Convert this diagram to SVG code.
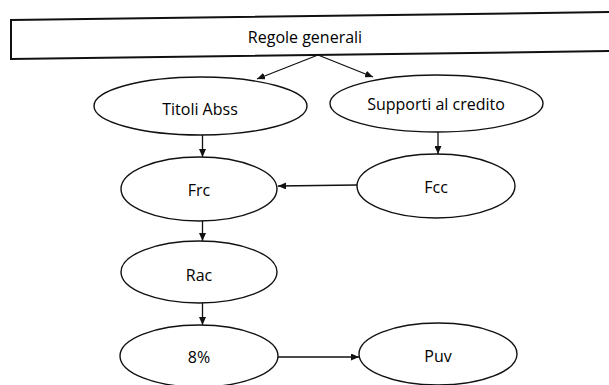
<svg xmlns="http://www.w3.org/2000/svg" width="609" height="385" viewBox="0 0 609 385">
<defs>
<style>
.shape{fill:#fff;stroke:#111;stroke-width:1.4}
.box{fill:#fff;stroke:#111;stroke-width:2}
.lbl{font-family:"Open Sans","Liberation Sans",sans-serif;font-size:16px;font-weight:500;fill:#000;text-anchor:middle}
.conn{fill:none;stroke:#111;stroke-width:1.3}
</style>
<marker id="ah" viewBox="0 0 8 7" refX="8" refY="3.5" markerWidth="8" markerHeight="7" markerUnits="userSpaceOnUse" orient="auto">
<path d="M0,0 L8,3.5 L0,7 z" fill="#111"/>
</marker>
</defs>
<rect width="609" height="385" fill="#fff"/>
<g id="regole">
<polygon class="box" points="11,20 616,12 616,51 11,59"/>
<text class="lbl" x="305" y="43">Regole generali</text>
</g>
<g id="titoli">
<ellipse class="shape" cx="200.5" cy="106" rx="106.5" ry="29"/>
<text class="lbl" x="200" y="115">Titoli Abss</text>
</g>
<g id="supporti">
<ellipse class="shape" cx="436.5" cy="103.5" rx="106.5" ry="28.5"/>
<text class="lbl" x="436" y="110">Supporti al credito</text>
</g>
<g id="frc">
<ellipse class="shape" cx="199" cy="189" rx="78" ry="32"/>
<text class="lbl" x="199" y="196">Frc</text>
</g>
<g id="fcc">
<ellipse class="shape" cx="436" cy="186" rx="79" ry="32"/>
<text class="lbl" x="436" y="193">Fcc</text>
</g>
<g id="rac">
<ellipse class="shape" cx="199" cy="272" rx="78" ry="31"/>
<text class="lbl" x="199" y="281">Rac</text>
</g>
<g id="otto">
<ellipse class="shape" cx="199" cy="356" rx="79" ry="31"/>
<text class="lbl" x="199" y="363">8%</text>
</g>
<g id="puv">
<ellipse class="shape" cx="438" cy="354" rx="79" ry="31"/>
<text class="lbl" x="438" y="362">Puv</text>
</g>
<g id="connectors">
<line class="conn" x1="318" y1="55" x2="257" y2="79" marker-end="url(#ah)"/>
<line class="conn" x1="318" y1="55" x2="373" y2="77" marker-end="url(#ah)"/>
<line class="conn" x1="202.5" y1="135" x2="202.5" y2="157" marker-end="url(#ah)"/>
<line class="conn" x1="438" y1="132" x2="438" y2="154" marker-end="url(#ah)"/>
<line class="conn" x1="357" y1="185" x2="278" y2="186" marker-end="url(#ah)"/>
<line class="conn" x1="202.5" y1="221" x2="202.5" y2="241" marker-end="url(#ah)"/>
<line class="conn" x1="202.5" y1="303" x2="202.5" y2="325" marker-end="url(#ah)"/>
<line class="conn" x1="278" y1="357" x2="359" y2="357" marker-end="url(#ah)"/>
</g>
</svg>
